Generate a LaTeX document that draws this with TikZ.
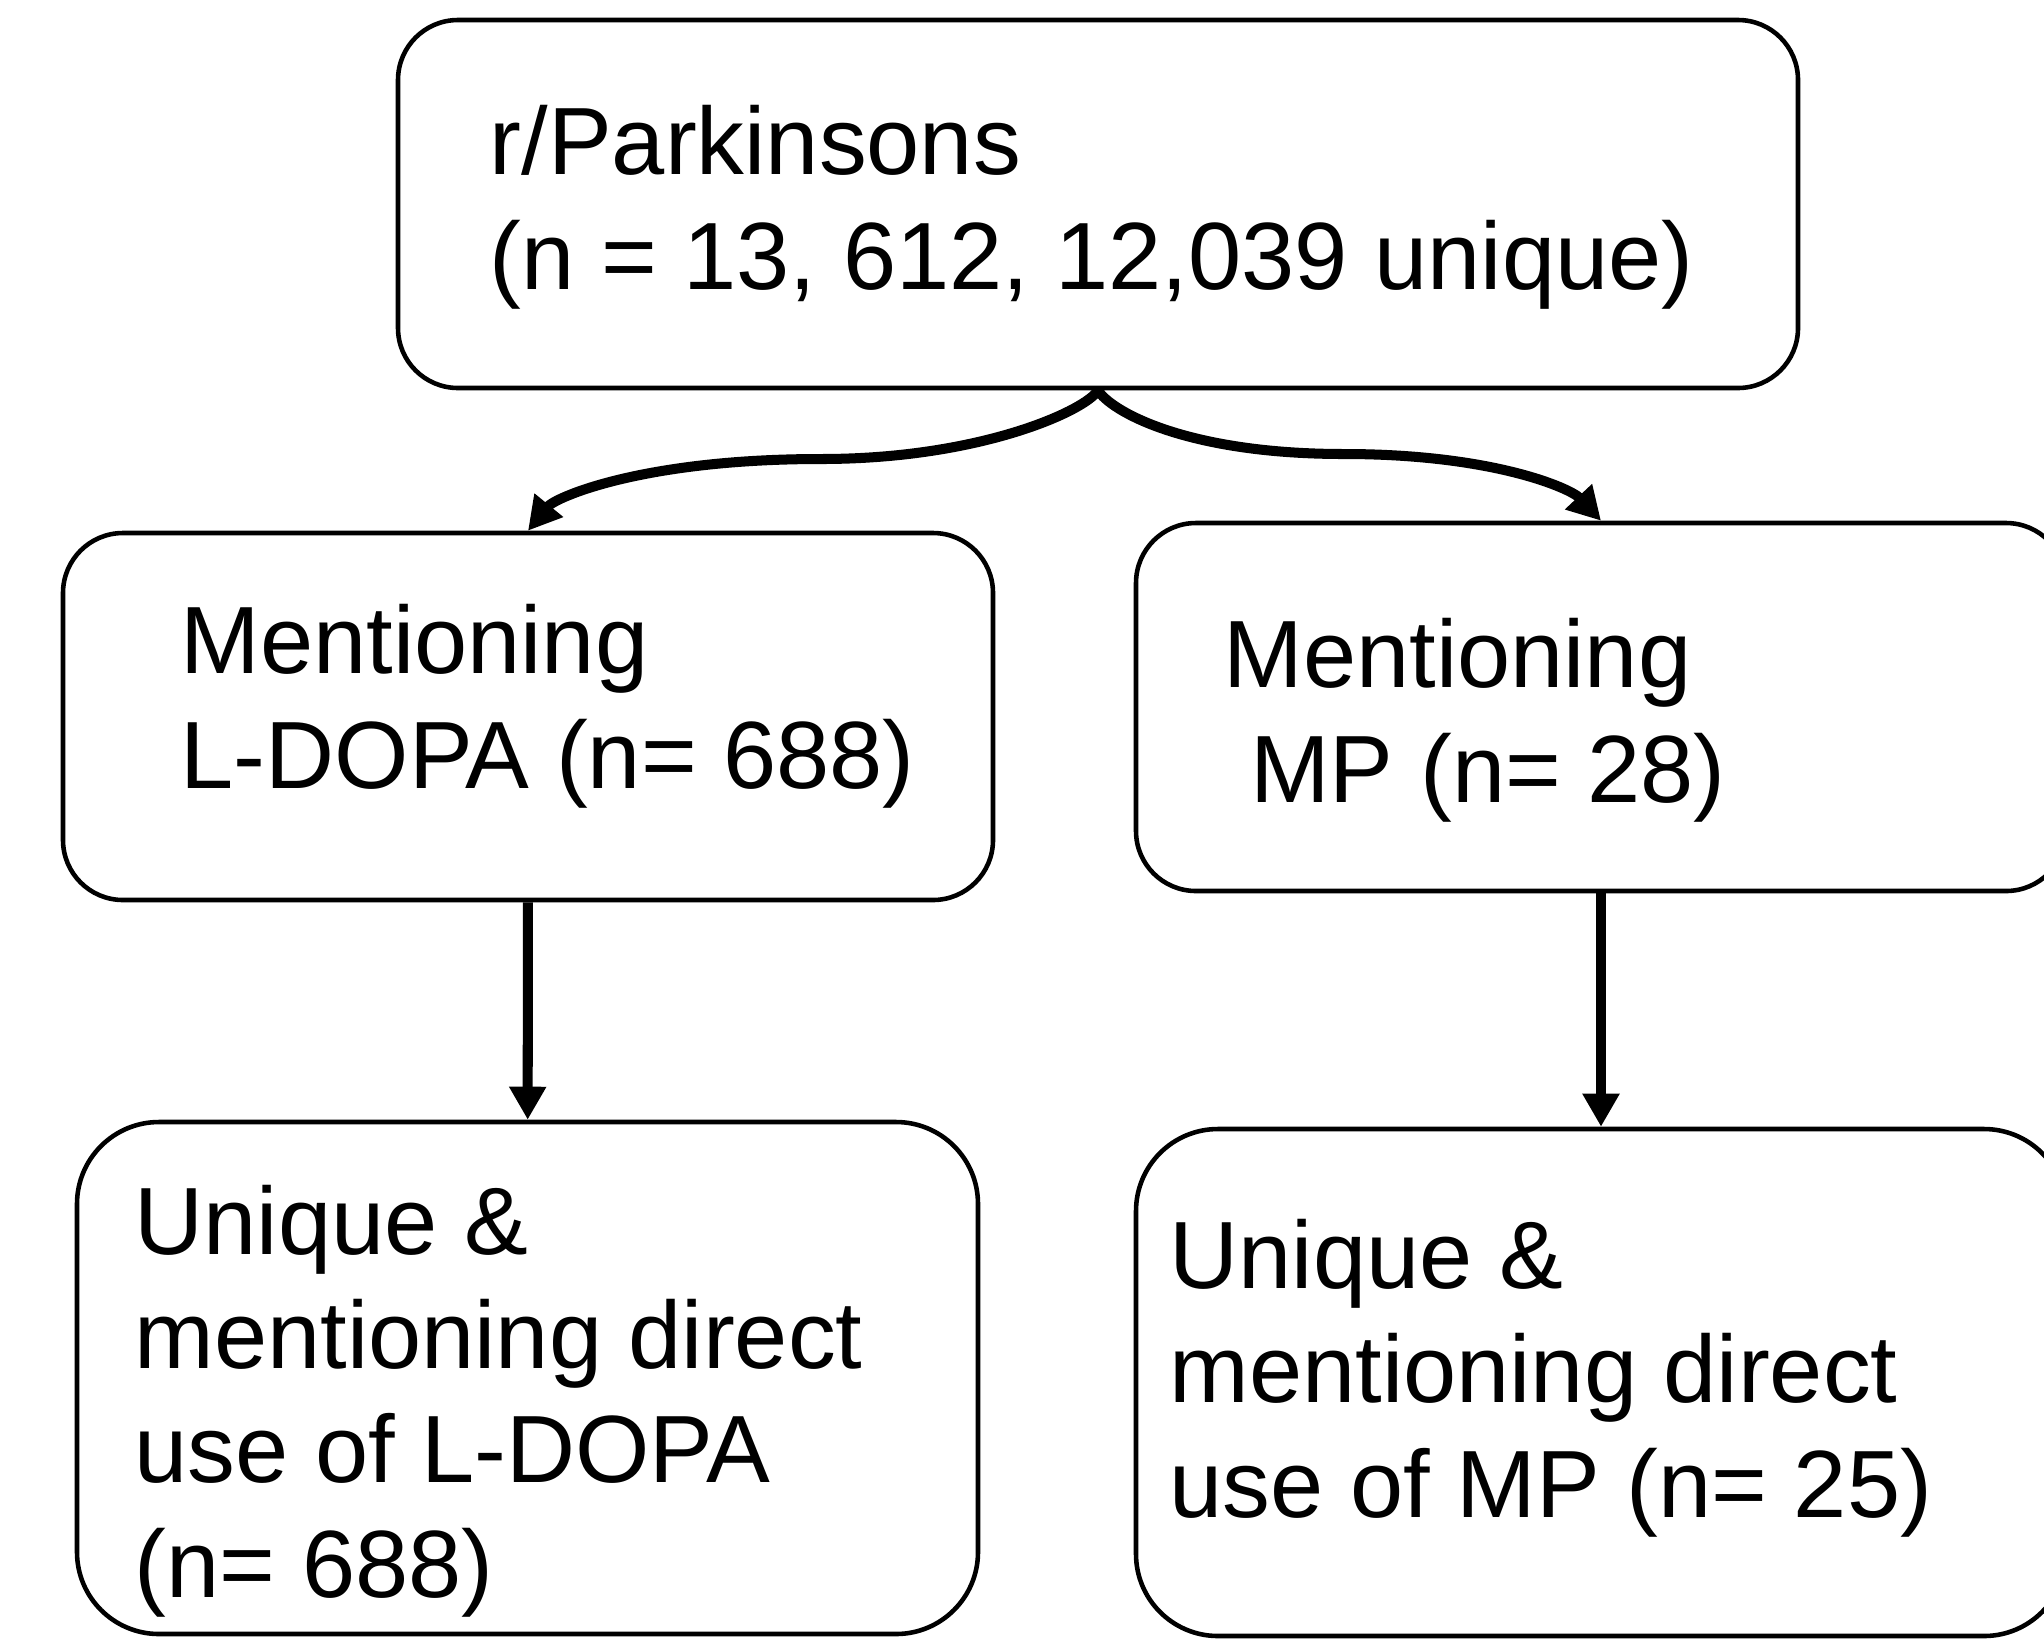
\documentclass[tikz,border=0pt]{standalone}
\usepackage{fontspec}
\setmainfont{Liberation Sans}
\usepackage{tikz}
\usetikzlibrary{calc,positioning,arrows.meta}

\begin{document}
\begin{tikzpicture}[
        box/.style={draw, line width=1.3pt, rounded corners=0.6cm, inner sep=0pt},
        bigbox/.style={box, rounded corners=0.82cm},
        txt/.style={align=left, inner sep=0pt, anchor=base west, font=\fontsize{27.2}{32.5}\selectfont},
        conn/.style={line width=2.85pt, -{Triangle[width=0.35cm, length=0.33cm]}}]
        \useasboundingbox (0,0) rectangle (20.44,-16.39);

        % boxes
        \node [box, minimum width=14cm, minimum height=3.68cm] (top) at (10.98,-2.04) {};
        \node [box, minimum width=9.3cm, minimum height=3.67cm] (ldopa) at (5.28,-7.165) {};
        \node [box, minimum width=9.3cm, minimum height=3.68cm] (mp) at (16.01,-7.07) {};
        \node [bigbox, minimum width=9.01cm, minimum height=5.12cm] (ldopause) at (5.275,-13.78) {};
        \node [bigbox, minimum width=9.3cm, minimum height=5.07cm] (mpuse) at (16.01,-13.825) {};

        % texts, placed by the baseline of their last line
        \node [txt] (top_txt) at (4.89,-2.89) {r/Parkinsons\\(n = 13, 612, 12,039 unique)};
        \node [txt] (ldopa_txt) at (1.80,-7.88) {Mentioning\\L-DOPA (n= 688)};
        \node [txt] (mp_txt) at (12.23,-8.02) {Mentioning\\\hspace*{0.278em}MP (n= 28)};
        \node [txt] (ldopause_txt) at (1.34,-15.97) {Unique \&\\mentioning direct\\use of L-DOPA\\(n= 688)};
        \node [txt] (mpuse_txt) at (11.69,-15.17) {Unique \&\\mentioning direct\\use of MP (n= 25)};

        % arrows
        \coordinate (lbend) at (8.21,-4.59);
        \coordinate (rbend) at (13.44,-4.54);
        \draw[conn] (top.south) .. controls +(-0.12,-0.2) and +(1.6,0) .. (lbend)
            .. controls +(-1.8,0) and +(0.27,0.33) .. (ldopa.north);
        \draw[conn] (top.south) .. controls +(0.12,-0.2) and +(-1.6,0) .. (rbend)
            .. controls +(1.5,0) and +(-0.3,0.32) .. (mp.north);
        \draw[conn] (ldopa) -- (ldopause);
        \draw[conn] (mp) -- (mpuse);
\end{tikzpicture}
\end{document}
